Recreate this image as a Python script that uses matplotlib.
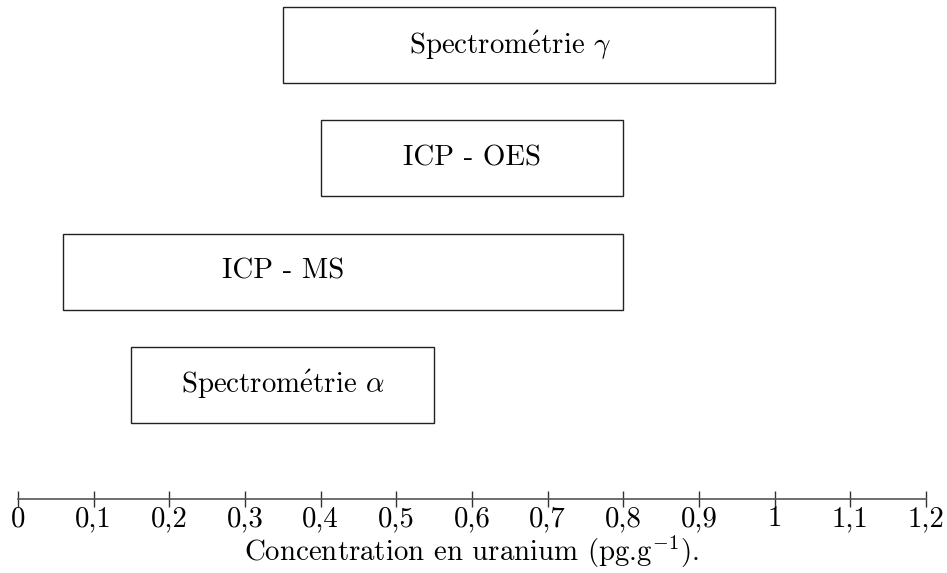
import matplotlib
matplotlib.use("Agg")
import matplotlib.pyplot as plt
from matplotlib.patches import Rectangle
from matplotlib.ticker import FixedLocator, FuncFormatter

plt.rcParams['font.family'] = ['cmr10', 'STIXGeneral', 'DejaVu Serif']
plt.rcParams['mathtext.fontset'] = 'cm'
plt.rcParams['axes.unicode_minus'] = False

# Data
methods = ["Spectrom$\\mathrm{\\acute{e}}$trie $\\gamma$", "ICP - OES", "ICP - MS",
           "Spectrom$\\mathrm{\\acute{e}}$trie $\\alpha$"]
range_low = [0.35, 0.40, 0.06, 0.15]
range_high = [1.00, 0.80, 0.80, 0.55]
label_x = [0.65, 0.60, 0.35, 0.35]
tick_values = [0, 0.1, 0.2, 0.3, 0.4, 0.5, 0.6, 0.7, 0.8, 0.9, 1.0, 1.1, 1.2]
xlabel = "Concentration en uranium (pg.g$^{-1}$)."

W, H = 947, 573
fig = plt.figure(figsize=(W / 100, H / 100), dpi=100)
ax = fig.add_axes([0, 0, 1, 1])
ax.set_xlim(-18 / 756.7, 1.2 + 21 / 756.7)
ax.set_ylim(H, 0)

fs = 20.8
box_top0 = 7
box_h = 76
step = 113.3
for i, (m, lo, hi, lx) in enumerate(zip(methods, range_low, range_high, label_x)):
    top = box_top0 + i * step
    ax.add_patch(Rectangle((lo, top), hi - lo, box_h, fill=False,
                           edgecolor='#222222', linewidth=1.0))
    ax.text(lx, top + box_h / 2, m, ha='center', va='center', fontsize=fs)

for s in ['top', 'left', 'right']:
    ax.spines[s].set_visible(False)
ax.spines['bottom'].set_position(('data', 499))
ax.spines['bottom'].set_bounds(0, 1.2)
ax.spines['bottom'].set_color('#555555')
ax.spines['bottom'].set_linewidth(1.2)
ax.yaxis.set_visible(False)
ax.xaxis.set_major_locator(FixedLocator(tick_values))

def fmt(v, pos):
    s = ("%.1f" % v)
    if s.endswith(".0"):
        s = s[:-2]
    return s.replace(".", ",")

ax.xaxis.set_major_formatter(FuncFormatter(fmt))
ax.tick_params(axis='x', direction='inout', length=12, width=1.0,
               color='#333333', labelsize=fs, pad=-1)
ax.text(0.6, 552, xlabel, ha='center', va='center', fontsize=fs)

fig.savefig("out.png", dpi=100, facecolor='white')
